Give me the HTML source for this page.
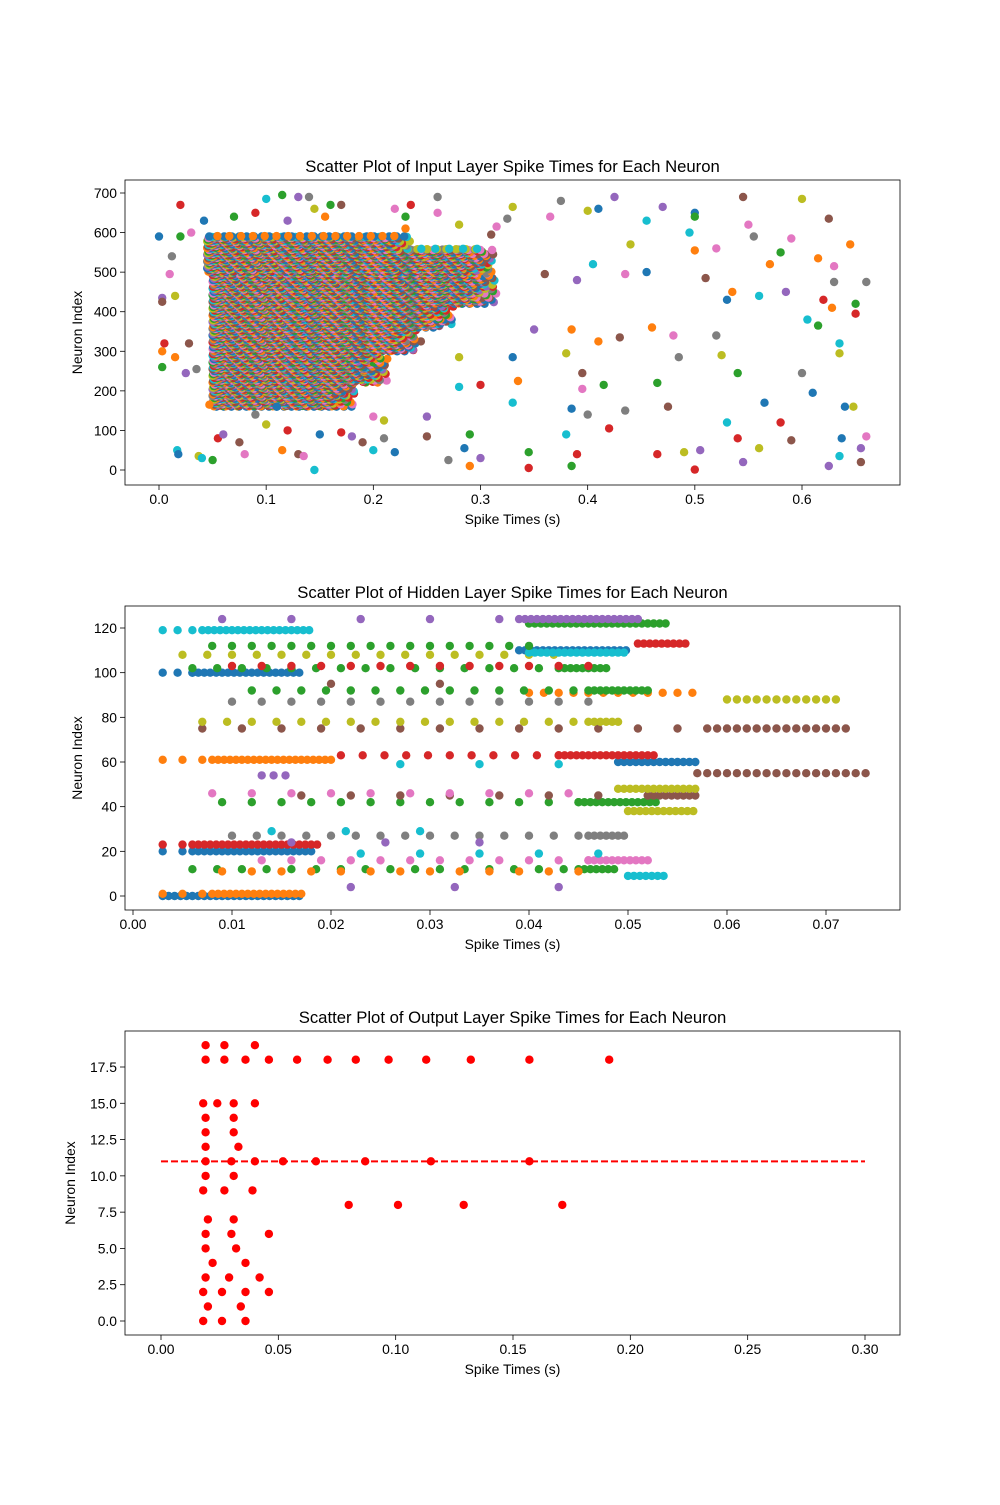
<!DOCTYPE html>
<html><head><meta charset="utf-8"><style>
body{margin:0;background:#fff}
svg text{font-family:"Liberation Sans","DejaVu Sans",sans-serif;fill:#000}
</style></head><body>
<svg id="fig" xmlns="http://www.w3.org/2000/svg" width="1000" height="1500" viewBox="0 0 1000 1500">
<rect width="1000" height="1500" fill="#fff"/>
</svg>
<script>
const COLORS=['#1f77b4','#ff7f0e','#2ca02c','#d62728','#9467bd','#8c564b','#e377c2','#7f7f7f','#bcbd22','#17becf'];
// ---- Input layer data ----
const inBandLo=[160,220,300,360,420,500,560];
const inBandHi=[220,300,360,420,500,560,592];
const inBandStart=[0.05,0.05,0.05,0.05,0.05,0.045,0.045];
const inBandEnd=[0.17,0.20,0.23,0.26,0.30,0.30,0.22];
const inScatter=[[0.0,590],[0.003,300],[0.003,260],[0.005,320],[0.003,435],[0.003,425],[0.01,495],[0.012,540],[0.015,440],[0.017,50],[0.018,40],[0.015,285],[0.02,590],[0.02,670],[0.025,245],[0.028,320],[0.03,600],[0.035,255],[0.037,35],[0.04,30],[0.042,630],[0.047,165],[0.05,25],[0.055,80],[0.06,90],[0.075,70],[0.08,40],[0.09,140],[0.1,115],[0.1,685],[0.11,160],[0.115,50],[0.115,695],[0.12,100],[0.12,630],[0.13,40],[0.135,35],[0.14,690],[0.145,660],[0.145,0],[0.15,90],[0.155,640],[0.16,670],[0.17,95],[0.18,85],[0.19,70],[0.2,135],[0.21,80],[0.21,125],[0.2,50],[0.22,45],[0.23,610],[0.23,640],[0.235,670],[0.25,135],[0.25,85],[0.26,650],[0.27,25],[0.28,285],[0.28,210],[0.285,55],[0.29,10],[0.29,90],[0.3,215],[0.3,30],[0.31,595],[0.315,615],[0.325,635],[0.33,665],[0.33,170],[0.33,285],[0.335,225],[0.345,45],[0.345,5],[0.35,355],[0.36,495],[0.365,640],[0.375,680],[0.38,295],[0.38,90],[0.385,155],[0.385,355],[0.385,10],[0.39,40],[0.39,480],[0.395,245],[0.395,205],[0.4,140],[0.4,655],[0.405,520],[0.41,660],[0.41,325],[0.415,215],[0.42,105],[0.425,690],[0.43,335],[0.435,495],[0.435,150],[0.44,570],[0.455,630],[0.455,500],[0.46,360],[0.465,220],[0.465,40],[0.47,665],[0.475,160],[0.48,340],[0.485,285],[0.49,45],[0.495,600],[0.5,650],[0.5,555],[0.5,640],[0.5,1],[0.505,50],[0.51,485],[0.52,560],[0.52,340],[0.525,290],[0.53,120],[0.53,430],[0.535,450],[0.54,245],[0.54,80],[0.545,20],[0.545,690],[0.55,620],[0.555,590],[0.56,55],[0.56,440],[0.565,170],[0.57,520],[0.58,550],[0.58,120],[0.585,450],[0.59,75],[0.59,585],[0.6,245],[0.6,685],[0.605,380],[0.61,195],[0.615,535],[0.615,365],[0.62,430],[0.625,10],[0.625,635],[0.63,515],[0.63,475],[0.635,295],[0.635,35],[0.64,160],[0.645,570],[0.65,420],[0.65,395],[0.655,55],[0.655,20],[0.66,85],[0.66,475],[0.648,160],[0.635,320],[0.637,80],[0.628,410],[0.07,640],[0.09,650],[0.13,690],[0.17,670],[0.22,660],[0.26,690],[0.28,620]];
const inXTicks=[0,0.1,0.2,0.3,0.4,0.5,0.6];
const inYTicks=[0,100,200,300,400,500,600,700];
// ---- Hidden layer data ----
const hidNeuron=[0,1,1,20,20,23,23,12,12,11,9,16,16,27,27,42,42,45,45,48,38,46,55,60,61,61,63,63,75,75,78,78,87,88,91,92,92,95,100,100,102,102,103,108,110,109,112,113,119,119,122,124,124,19,29,59,54,4,24];
const hidStart=[0.003,0.003,0.008,0.003,0.006,0.003,0.006,0.006,0.045,0.009,0.050,0.013,0.046,0.010,0.046,0.009,0.045,0.017,0.052,0.049,0.050,0.008,0.057,0.049,0.003,0.008,0.021,0.043,0.007,0.058,0.007,0.046,0.010,0.060,0.040,0.012,0.046,0.020,0.003,0.006,0.006,0.043,0.010,0.005,0.039,0.040,0.008,0.051,0.003,0.007,0.040,0.009,0.039,0.023,0.014,0.027,0.013,0.022,0.016];
const hidEnd=[0.017,0.007,0.017,0.006,0.018,0.006,0.019,0.045,0.049,0.046,0.054,0.046,0.052,0.046,0.050,0.045,0.053,0.052,0.057,0.057,0.057,0.045,0.074,0.057,0.008,0.020,0.043,0.053,0.058,0.072,0.046,0.049,0.046,0.071,0.057,0.046,0.052,0.040,0.006,0.017,0.043,0.048,0.046,0.044,0.050,0.050,0.040,0.056,0.007,0.018,0.054,0.039,0.051,0.047,0.035,0.044,0.016,0.043,0.035];
const hidStep=[0.0006,0.002,0.0006,0.002,0.0006,0.002,0.0006,0.0025,0.0006,0.003,0.0006,0.003,0.0006,0.0025,0.0006,0.003,0.0006,0.005,0.0006,0.0006,0.0006,0.004,0.001,0.0006,0.002,0.0006,0.0022,0.0006,0.004,0.001,0.0025,0.0006,0.003,0.001,0.0015,0.0025,0.0006,0.011,0.0015,0.0006,0.0025,0.0006,0.003,0.0025,0.0006,0.0006,0.002,0.0006,0.0015,0.0006,0.0006,0.007,0.0006,0.006,0.0075,0.008,0.0012,0.0105,0.0095];
const hidXTicks=[0,0.01,0.02,0.03,0.04,0.05,0.06,0.07];
const hidYTicks=[0,20,40,60,80,100,120];
// ---- Output layer data ----
const outNeuron=[19,19,19,18,18,18,18,18,18,18,18,18,18,18,18,15,15,15,15,14,14,13,13,12,12,11,11,11,11,11,11,11,11,10,10,9,9,9,8,8,8,8,7,7,6,6,6,5,5,4,4,3,3,3,2,2,2,2,1,1,0,0,0];
const outTime=[0.019,0.027,0.040,0.019,0.027,0.036,0.046,0.058,0.071,0.083,0.097,0.113,0.132,0.157,0.191,0.018,0.024,0.031,0.040,0.019,0.031,0.019,0.031,0.019,0.033,0.019,0.030,0.040,0.052,0.066,0.087,0.115,0.157,0.019,0.031,0.018,0.027,0.039,0.080,0.101,0.129,0.171,0.020,0.031,0.019,0.030,0.046,0.019,0.032,0.022,0.036,0.019,0.029,0.042,0.018,0.026,0.036,0.046,0.020,0.034,0.018,0.026,0.036];
const outLineY=[11];
const outLineX=[0,0.3];
const outXTicks=[0,0.05,0.10,0.15,0.20,0.25,0.30];
const outYTicks=[0,2.5,5,7.5,10,12.5,15,17.5];

const NS='http://www.w3.org/2000/svg';
const svg=document.getElementById('fig');
function mk(tag,attrs,parent){const e=document.createElementNS(NS,tag);for(const k in attrs)e.setAttribute(k,attrs[k]);(parent||svg).appendChild(e);return e;}
function axes(cfg){
  const g=mk('g',{});
  
  
  const sx=v=>cfg.x0+(v-cfg.xa)/(cfg.xb-cfg.xa)*(cfg.x1-cfg.x0);
  const sy=v=>cfg.y0+(v-cfg.ya)/(cfg.yb-cfg.ya)*(cfg.y1-cfg.y0);
  const clipId=cfg.name+'-clip';
  const cp=mk('clipPath',{id:clipId},g);
  mk('rect',{x:cfg.L,y:cfg.T,width:cfg.R-cfg.L,height:cfg.B-cfg.T},cp);
  const marks=mk('g',{'clip-path':'url(#'+clipId+')'},g);
  
  
  return {g,sx,sy,marks,cfg};
}
function finish(a){
  const {g,sx,sy,cfg}=a;
  const fr=mk('rect',{x:cfg.L,y:cfg.T,width:cfg.R-cfg.L,height:cfg.B-cfg.T,fill:'none',stroke:'#000','stroke-width':0.8},g);
  
  
  cfg.xt.forEach(v=>{const x=sx(v);
    mk('line',{x1:x,x2:x,y1:cfg.B,y2:cfg.B+5,stroke:'#000','stroke-width':0.8},g);
    const t=mk('text',{x:x,y:cfg.B+19,'text-anchor':'middle','font-size':13.9},g);
    t.textContent=v.toFixed(cfg.xd);
    
    });
  cfg.yt.forEach(v=>{const y=sy(v);
    mk('line',{x1:cfg.L-5,x2:cfg.L,y1:y,y2:y,stroke:'#000','stroke-width':0.8},g);
    const t=mk('text',{x:cfg.L-8,y:y+5,'text-anchor':'end','font-size':13.9},g);
    t.textContent=v.toFixed(cfg.yd);
    
    });
  const tt=mk('text',{x:(cfg.L+cfg.R)/2,y:cfg.T-8,'text-anchor':'middle','font-size':16.7},g);
  tt.textContent=cfg.title;
  
  
  const xl=mk('text',{x:(cfg.L+cfg.R)/2,y:cfg.B+39,'text-anchor':'middle','font-size':13.9},g);
  xl.textContent='Spike Times (s)';
  
  
  const yx=cfg.L-cfg.ylOff, yy=(cfg.T+cfg.B)/2;
  const yl=mk('text',{x:yx,y:yy,'text-anchor':'middle','font-size':13.9,transform:'rotate(-90 '+yx+' '+yy+')'},g);
  yl.textContent='Neuron Index';
  
  
}
function dot(a,t,n,color){
  const c=mk('circle',{cx:a.sx(t).toFixed(1),cy:a.sy(n).toFixed(1),r:4.2,fill:color},a.marks);
  
  
}
// Input
const A1=axes({name:'input-layer-plot',L:125,R:900,T:180,B:485,xa:0,xb:0.6,x0:159,x1:802,ya:0,yb:700,y0:470,y1:193,xt:inXTicks,yt:inYTicks,xd:1,yd:0,ylOff:43,title:'Scatter Plot of Input Layer Spike Times for Each Neuron'});
for(let b=0;b<inBandLo.length;b++){
  for(let n=inBandLo[b];n<inBandHi[b];n+=1){
    const step=0.007+((n*7)%5)*0.002;
    const off=((n*13)%17)*0.0006;
    const endJ=inBandEnd[b]+((n*31)%11)*0.003-0.015;
    for(let t=inBandStart[b]+off;t<=endJ;t+=step) dot(A1,t,n,COLORS[n%10]);
  }
}
inScatter.forEach((p,i)=>dot(A1,p[0],p[1],COLORS[i%10]));
finish(A1);
// Hidden
const A2=axes({name:'hidden-layer-plot',L:125,R:900,T:606,B:910,xa:0,xb:0.07,x0:133,x1:826,ya:0,yb:120,y0:896,y1:628,xt:hidXTicks,yt:hidYTicks,xd:2,yd:0,ylOff:43,title:'Scatter Plot of Hidden Layer Spike Times for Each Neuron'});
for(let i=0;i<hidNeuron.length;i++){
  for(let t=hidStart[i];t<=hidEnd[i]+1e-9;t+=hidStep[i]) dot(A2,t,hidNeuron[i],COLORS[hidNeuron[i]%10]);
}
finish(A2);
// Output
const A3=axes({name:'output-layer-plot',L:125,R:900,T:1031,B:1335,xa:0,xb:0.3,x0:161,x1:865,ya:0,yb:17.5,y0:1321,y1:1067,xt:outXTicks,yt:outYTicks,xd:2,yd:1,ylOff:50,title:'Scatter Plot of Output Layer Spike Times for Each Neuron'});
for(let i=0;i<outNeuron.length;i++) dot(A3,outTime[i],outNeuron[i],'#ff0000');
const ln=mk('line',{x1:A3.sx(outLineX[0]),x2:A3.sx(outLineX[1]),y1:A3.sy(outLineY[0]),y2:A3.sy(outLineY[0]),stroke:'#ff0000','stroke-width':2,'stroke-dasharray':'7,3'},A3.marks);


finish(A3);
</script>
</body></html>
